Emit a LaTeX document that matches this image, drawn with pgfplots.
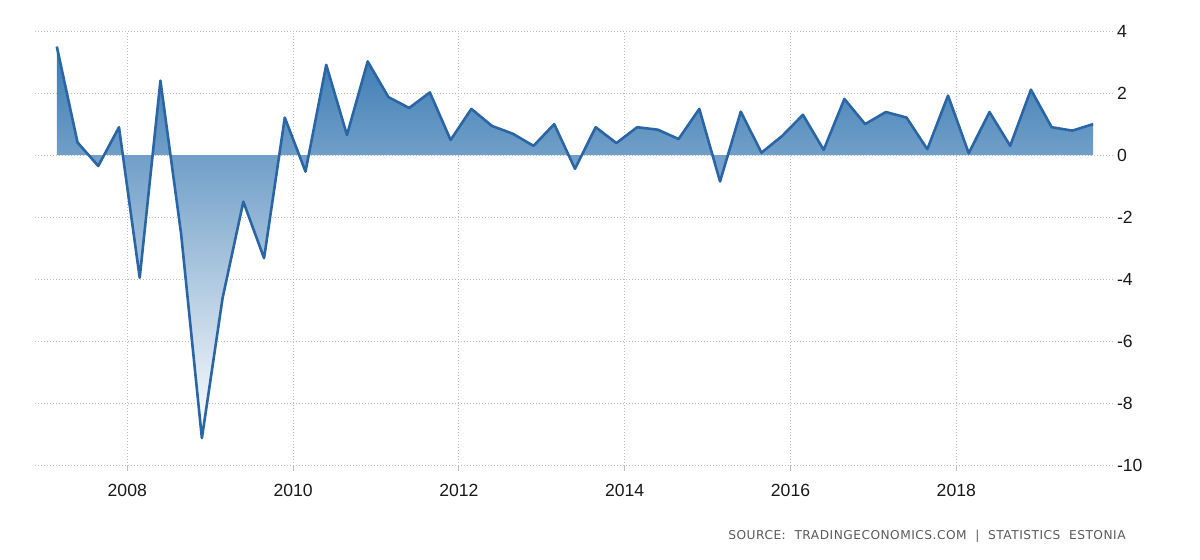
\documentclass[border=0pt]{standalone}
\usepackage{fontspec}
\setmainfont{Liberation Sans}
\newfontfamily\srcfont[LetterSpace=4]{DejaVu Sans}
\usepackage{pgfplots}
\pgfplotsset{compat=1.18}
\definecolor{linec}{HTML}{2A66A6}
\definecolor{topc}{HTML}{3A7AB3}
\definecolor{gridc}{HTML}{BEBEBE}
\definecolor{srcc}{HTML}{5A5A5A}

\pgfplotstableread{
x y
2007.15 3.50
2007.40 0.41
2007.65 -0.35
2007.90 0.90
2008.15 -3.95
2008.40 2.40
2008.65 -2.55
2008.90 -9.12
2009.15 -4.60
2009.40 -1.50
2009.65 -3.32
2009.90 1.21
2010.15 -0.53
2010.40 2.91
2010.65 0.65
2010.90 3.02
2011.15 1.87
2011.40 1.52
2011.65 2.02
2011.90 0.49
2012.15 1.49
2012.40 0.94
2012.65 0.69
2012.90 0.30
2013.15 1.00
2013.40 -0.44
2013.65 0.90
2013.90 0.39
2014.15 0.90
2014.40 0.82
2014.65 0.52
2014.90 1.49
2015.15 -0.85
2015.40 1.40
2015.65 0.08
2015.90 0.62
2016.15 1.30
2016.40 0.17
2016.65 1.81
2016.90 1.00
2017.15 1.39
2017.40 1.21
2017.65 0.19
2017.90 1.92
2018.15 0.06
2018.40 1.39
2018.65 0.30
2018.90 2.11
2019.15 0.90
2019.40 0.79
2019.65 1.00
}\gdp

\begin{document}
\begin{tikzpicture}
\path[use as bounding box] (0,0) rectangle (600pt,279.5pt);
\begin{axis}[
  at={(17.5pt,46.75pt)}, anchor=south west,
  scale only axis, width=539pt, height=217.25pt,
  xmin=2006.887, xmax=2019.89, ymin=-10, ymax=4,
  xtick={2008,2010,2012,2014,2016,2018},
  xticklabels={2008,2010,2012,2014,2016,2018},
  ytick={-10,-8,-6,-4,-2,0,2,4},
  yticklabels={-10,-8,-6,-4,-2,0,2,4},
  yticklabel pos=right,
  xtick pos=bottom,
  axis line style={draw=none},
  grid=major,
  major grid style={gridc, line width=0.5pt, dash pattern=on 0.5pt off 1pt},
  tick align=outside,
  xtick style={gridc, line width=0.5pt},
  major tick length=2.5pt,
  ytick style={draw=none},
  ticklabel style={font=\fontsize{8.8}{10}\selectfont, text=black!90},
  yticklabel style={anchor=west, xshift=-4pt},
  xticklabel style={yshift=-3.5pt},
]
\addplot[draw=none, top color=topc, bottom color=white, shading angle=0] table[x=x,y=y] {\gdp} \closedcycle;
\addplot[linec, line width=1.3pt, line join=round, no marks] table[x=x,y=y] {\gdp};
\end{axis}
\node[anchor=base east, font=\srcfont\fontsize{6.1}{7}\selectfont, text=srcc, inner sep=0pt] at (563pt,10pt) {SOURCE:\ \ TRADINGECONOMICS.COM\ \ |\ \ STATISTICS\ \ ESTONIA};
\end{tikzpicture}
\end{document}
